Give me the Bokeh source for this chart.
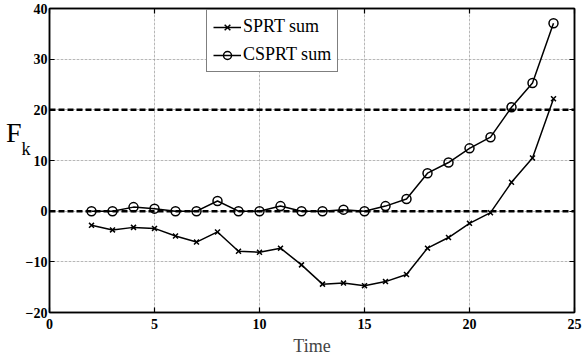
from bokeh.plotting import figure
from bokeh.models import (Range1d, LinearAxis, Legend, LegendItem, FixedTicker, Span,
                          CustomJSTickFormatter, Grid)
from bokeh.embed import file_html
from bokeh.resources import INLINE

time = [2, 3, 4, 5, 6, 7, 8, 9, 10, 11, 12, 13, 14, 15, 16, 17, 18, 19, 20, 21, 22, 23, 24]
sprt_sum = [-2.8, -3.7, -3.2, -3.4, -4.9, -6.1, -4.1, -7.9, -8.1, -7.3, -10.6, -14.4,
            -14.2, -14.7, -13.9, -12.5, -7.3, -5.2, -2.4, -0.3, 5.7, 10.5, 22.2]
csprt_sum = [0.0, 0.0, 0.8, 0.5, 0.0, 0.0, 2.0, 0.0, 0.0, 1.0, 0.0, 0.0,
             0.3, 0.0, 1.0, 2.4, 7.5, 9.6, 12.4, 14.6, 20.5, 25.3, 37.1]
thresholds = [0, 20]
x_ticks = [0, 5, 10, 15, 20, 25]
y_ticks = [-20, -10, 0, 10, 20, 30, 40]
y_tick_labels = {-20: "\u221220", -10: "\u221210", 0: "0", 10: "10", 20: "20", 30: "30", 40: "40"}
x_tick_labels = {0: "0", 5: "5", 10: "10", 15: "15", 20: "20", 25: "25"}
y_label_main = "F"
y_label_sub = "k"

SERIF = "Liberation Serif"

p = figure(width=582, height=358, output_backend="svg", toolbar_location=None,
           x_range=Range1d(0, 25), y_range=Range1d(-20, 40),
           x_axis_location=None, y_axis_location=None,
           min_border_left=49, min_border_right=8, min_border_top=8, min_border_bottom=45)
p.background_fill_color = "white"
p.border_fill_color = "white"
p.outline_line_color = "black"
p.outline_line_width = 1.5

tick_style = dict(major_tick_in=5, major_tick_out=0, minor_tick_in=0, minor_tick_out=0,
                  axis_line_width=1.5, major_tick_line_width=1.2)
label_style = dict(major_label_text_font=SERIF, major_label_text_font_style="bold",
                   major_label_text_font_size="14px", major_label_text_color="black")

xa = LinearAxis(ticker=FixedTicker(ticks=x_ticks), major_label_overrides=x_tick_labels,
                major_label_standoff=6, axis_label="Time", axis_label_text_font=SERIF,
                axis_label_text_font_style="normal", axis_label_text_font_size="18px",
                axis_label_standoff=4, **label_style, **tick_style)
ya = LinearAxis(ticker=FixedTicker(ticks=y_ticks), major_label_overrides=y_tick_labels,
                major_label_standoff=2, **label_style, **tick_style)
blank = CustomJSTickFormatter(code="return ''")
top = LinearAxis(ticker=FixedTicker(ticks=x_ticks), formatter=blank, major_label_standoff=0,
                 **tick_style)
right = LinearAxis(ticker=FixedTicker(ticks=y_ticks), formatter=blank, major_label_standoff=0,
                   **tick_style)

# y-axis title F_k drawn as labels of two label-only axes
bare = dict(axis_line_color=None, major_tick_line_color=None, minor_tick_line_color=None,
            major_tick_in=0, major_tick_out=0, minor_tick_in=0, minor_tick_out=0,
            major_label_text_font=SERIF, major_label_text_color="black")
ax_k = LinearAxis(ticker=FixedTicker(ticks=[12.3]), major_label_overrides={12.3: y_label_sub},
                  major_label_standoff=-8, major_label_text_font_size="18px", **bare)
ax_f = LinearAxis(ticker=FixedTicker(ticks=[15.6]), major_label_overrides={15.6: y_label_main},
                  major_label_standoff=-3, major_label_text_font_size="28px", **bare)

p.add_layout(xa, "below")
p.add_layout(ya, "left")
p.add_layout(ax_k, "left")
p.add_layout(ax_f, "left")
p.add_layout(top, "above")
p.add_layout(right, "right")

grid_style = dict(grid_line_color="#888888", grid_line_dash="1 3", grid_line_width=1)
p.add_layout(Grid(dimension=0, ticker=FixedTicker(ticks=x_ticks), **grid_style))
p.add_layout(Grid(dimension=1, ticker=FixedTicker(ticks=y_ticks), **grid_style))

for t in thresholds:
    p.add_layout(Span(location=t, dimension="width", line_color="black",
                      line_width=2.5, line_dash="6 3"))

l1 = p.line(time, sprt_sum, line_color="black", line_width=1.5)
m1 = p.scatter(time, sprt_sum, marker="x", size=7, line_color="black", line_width=1.5)
l2 = p.line(time, csprt_sum, line_color="black", line_width=1.5)
m2 = p.scatter(time, csprt_sum, marker="circle", size=9, line_color="black",
               line_width=1.5, fill_color=None)

legend = Legend(items=[LegendItem(label="SPRT sum", renderers=[l1, m1]),
                       LegendItem(label="CSPRT sum", renderers=[l2, m2])],
                location=(157, 240))
legend.label_text_font = SERIF
legend.label_text_font_size = "18px"
legend.label_text_color = "black"
legend.glyph_width = 28
legend.glyph_height = 20
legend.label_height = 20
legend.label_standoff = 2
legend.spacing = 7
legend.padding = 6
legend.margin = 0
legend.border_line_color = "black"
legend.border_line_width = 1.2
legend.background_fill_alpha = 1
p.add_layout(legend, "center")

open("out.html", "w").write(file_html(p, INLINE))
